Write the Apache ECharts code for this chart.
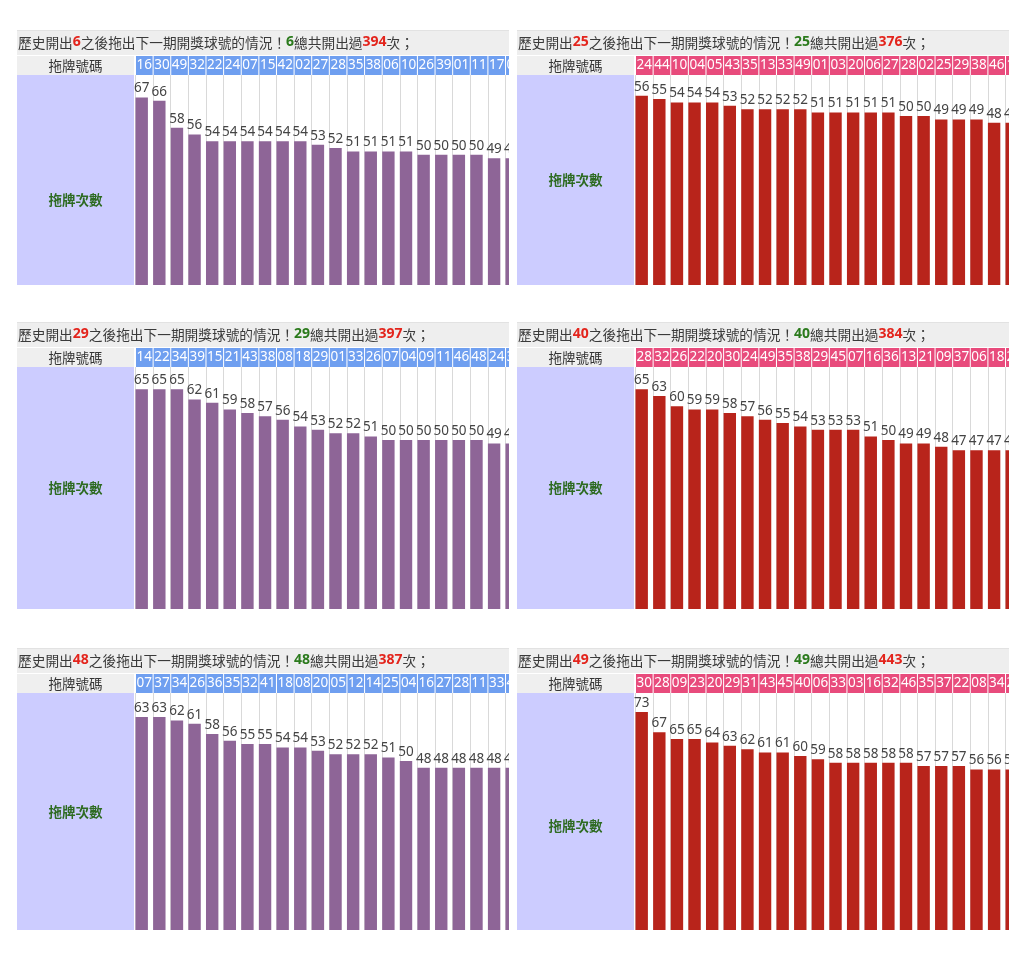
<!DOCTYPE html>
<html>
<head>
<meta charset="utf-8">
<script src="https://cdn.jsdelivr.net/npm/echarts@6/dist/echarts.min.js"></script>
<style>
html, body { margin: 0; padding: 0; background: #fff; }
#page { position: relative; width: 1024px; height: 957px; overflow: hidden; }
.panel { position: absolute; overflow: hidden; }
.panel .chart { position: absolute; left: 0; top: 0; }
</style>
</head>
<body>
<div id="page"></div>
<script>
// drawn ball, and how many times it has been drawn
var drawnBalls = [6, 25, 29, 40, 48, 49];
var drawnTotals = [394, 376, 397, 384, 387, 443];

// follow-up numbers (拖牌號碼) and their counts (拖牌次數), per drawn ball
var cats6 = ['16','30','49','32','22','24','07','15','42','02','27','28','35','38','06','10','26','39','01','11','17','04'];
var counts6 = [67,66,58,56,54,54,54,54,54,54,53,52,51,51,51,51,50,50,50,50,49,49];

var cats25 = ['24','44','10','04','05','43','35','13','33','49','01','03','20','06','27','28','02','25','29','38','46','14'];
var counts25 = [56,55,54,54,54,53,52,52,52,52,51,51,51,51,51,50,50,49,49,49,48,48];

var cats29 = ['14','22','34','39','15','21','43','38','08','18','29','01','33','26','07','04','09','11','46','48','24','35'];
var counts29 = [65,65,65,62,61,59,58,57,56,54,53,52,52,51,50,50,50,50,50,50,49,49];

var cats40 = ['28','32','26','22','20','30','24','49','35','38','29','45','07','16','36','13','21','09','37','06','18','23'];
var counts40 = [65,63,60,59,59,58,57,56,55,54,53,53,53,51,50,49,49,48,47,47,47,47];

var cats48 = ['07','37','34','26','36','35','32','41','18','08','20','05','12','14','25','04','16','27','28','11','33','44'];
var counts48 = [63,63,62,61,58,56,55,55,54,54,53,52,52,52,51,50,48,48,48,48,48,48];

var cats49 = ['30','28','09','23','20','29','31','43','45','40','06','33','03','16','32','46','35','37','22','08','34','24'];
var counts49 = [73,67,65,65,64,63,62,61,61,60,59,58,58,58,58,58,57,57,57,56,56,56];

// layout
var CLIP_W = 492;       // visible width of each panel
var CHART_W = 512;      // full width, right part is cut off
var HEAD_H = 45;        // title band + number row
var SIDE_W = 117;       // lavender label column
var GRID_LEFT = 118.5;
var COL_W = 17.62;
var PX_PER_UNIT = 3.38;
var CJK = '"Noto Sans CJK TC", "Noto Sans CJK SC", sans-serif';

var purple = { head: '#6f9ff0', bar: '#8e6597' };
var red = { head: '#e84b7c', bar: '#b8241b' };

var panels = [
  { cats: cats6,  counts: counts6,  left: 17,  top: 30,    height: 255, floor: 11.5, theme: purple },
  { cats: cats25, counts: counts25, left: 517, top: 30,    height: 255, floor: 0,    theme: red },
  { cats: cats29, counts: counts29, left: 17,  top: 322,   height: 287, floor: 0,    theme: purple },
  { cats: cats40, counts: counts40, left: 517, top: 322,   height: 287, floor: 0,    theme: red },
  { cats: cats48, counts: counts48, left: 17,  top: 647.5, height: 282, floor: 0,    theme: purple },
  { cats: cats49, counts: counts49, left: 517, top: 647.5, height: 282, floor: 8.5,  theme: red }
];

function renderPanel(p, i) {
  var page = document.getElementById('page');
  var wrap = document.createElement('div');
  wrap.className = 'panel';
  wrap.style.left = p.left + 'px';
  wrap.style.top = p.top + 'px';
  wrap.style.width = CLIP_W + 'px';
  wrap.style.height = p.height + 'px';
  var el = document.createElement('div');
  el.className = 'chart';
  el.style.width = CHART_W + 'px';
  el.style.height = p.height + 'px';
  wrap.appendChild(el);
  page.appendChild(wrap);

  var gridH = p.height - HEAD_H;
  var yMax = p.floor + gridH / PX_PER_UNIT;
  // the original cell runs on below the cut, its label sits in the middle of it
  var sideLabelY = (HEAD_H + p.height + p.floor * PX_PER_UNIT) / 2;
  var ball = drawnBalls[i];

  var chart = echarts.init(el, null, { renderer: 'canvas' });
  chart.setOption({
    animation: false,
    title: {
      left: 1,
      top: 4,
      padding: 0,
      text: '{t|歷史開出}{r|' + ball + '}{t|之後拖出下一期開獎球號的情況！}{g|' + ball +
        '}{t|總共開出過}{r|' + drawnTotals[i] + '}{t|次；}',
      textStyle: {
        fontWeight: 'normal',
        rich: {
          t: { fontFamily: CJK, fontWeight: 'normal', fontSize: 13.7, color: '#3a3a3a', lineHeight: 17 },
          r: { fontFamily: 'Noto Sans', fontWeight: 'bold', fontSize: 14, color: '#e3241c', lineHeight: 17 },
          g: { fontFamily: 'Noto Sans', fontWeight: 'bold', fontSize: 14, color: '#2b7a1c', lineHeight: 17 }
        }
      }
    },
    graphic: [
      { type: 'rect', shape: { x: 0, y: 0, width: CHART_W, height: 25 }, style: { fill: '#eeeeee' } },
      { type: 'rect', shape: { x: 0, y: 0, width: CHART_W, height: 1 }, style: { fill: '#e2e2e2' } },
      { type: 'rect', shape: { x: 0, y: 26, width: SIDE_W, height: 19 }, style: { fill: '#efefef' } },
      {
        type: 'text', x: SIDE_W / 2, y: 35.5,
        style: { text: '拖牌號碼', font: '13.5px ' + CJK, fill: '#333', align: 'center', verticalAlign: 'middle' }
      },
      { type: 'rect', shape: { x: 0, y: HEAD_H, width: SIDE_W, height: gridH }, style: { fill: '#ccccff' } },
      {
        type: 'text', x: SIDE_W / 2, y: sideLabelY,
        style: { text: '拖牌次數', font: 'bold 13.5px ' + CJK, fill: '#2e6b22', align: 'center', verticalAlign: 'middle' }
      }
    ],
    grid: {
      left: GRID_LEFT,
      top: HEAD_H,
      width: p.cats.length * COL_W,
      height: gridH
    },
    xAxis: {
      type: 'category',
      position: 'top',
      data: p.cats,
      axisLine: { show: false },
      axisTick: { show: false },
      splitLine: { show: true, interval: 0, lineStyle: { color: '#d9d9d9', width: 1 } },
      axisLabel: {
        interval: 0,
        margin: 0,
        color: '#fff',
        backgroundColor: p.theme.head,
        width: 16.6,
        height: 19,
        lineHeight: 19,
        padding: 0,
        align: 'center',
        fontSize: 13.5,
        fontFamily: 'Noto Sans'
      }
    },
    yAxis: {
      type: 'value',
      min: p.floor,
      max: yMax,
      show: false,
      splitLine: { show: false }
    },
    series: [
      {
        type: 'bar',
        data: p.counts,
        barWidth: 12.4,
        barGap: 0,
        itemStyle: { color: p.theme.bar },
        label: {
          show: true,
          position: 'top',
          distance: 2,
          color: '#444',
          fontSize: 13.5,
          fontFamily: 'Noto Sans'
        }
      },
      // empty series, keeps the bars at the left of their column
      { type: 'bar', data: [], barWidth: 5.2, barGap: 0 }
    ]
  });
}

panels.forEach(renderPanel);
</script>
</body>
</html>
